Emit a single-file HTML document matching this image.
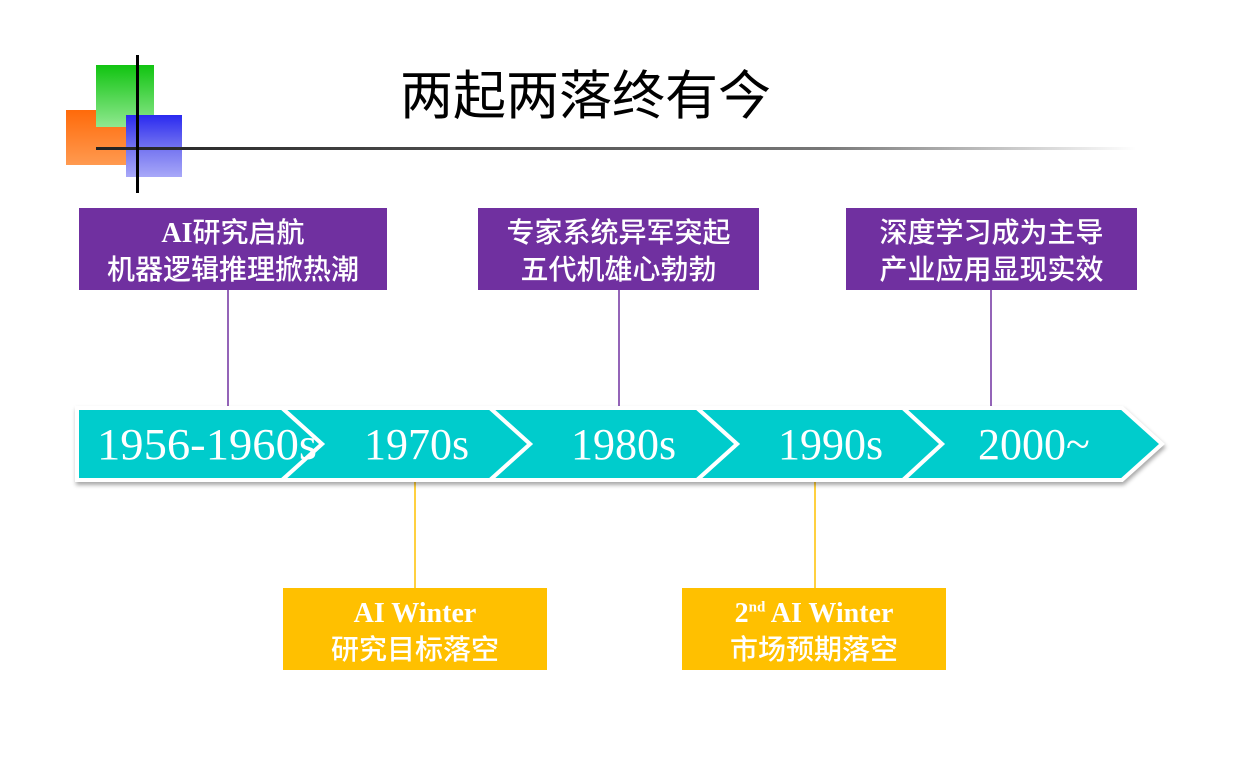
<!DOCTYPE html>
<html><head><meta charset="utf-8"><style>
body{margin:0;width:1245px;height:761px;background:#fff;overflow:hidden;position:relative;font-family:"Liberation Serif","Noto Sans CJK SC",serif}
.box{position:absolute;color:#fff;text-align:center;font-size:28px;line-height:37px;font-weight:bold;box-sizing:border-box;padding-top:7px}
.c{font-weight:500}
.p{background:#7030a0;top:208px;height:82px}
.y{background:#ffc000;top:588px;height:82px}
</style></head><body>
<svg width="1245" height="761" style="position:absolute;left:0;top:0">
<defs>
<linearGradient id="g" x1="0" y1="0" x2="0" y2="1"><stop offset="0" stop-color="#11c411"/><stop offset="1" stop-color="#90e890"/></linearGradient>
<linearGradient id="o" x1="0" y1="0" x2="0" y2="1"><stop offset="0" stop-color="#ff6a0a"/><stop offset="1" stop-color="#ff9a50"/></linearGradient>
<linearGradient id="b" x1="0" y1="0" x2="0" y2="1"><stop offset="0" stop-color="#2a2af0"/><stop offset="0.5" stop-color="#7070f0"/><stop offset="1" stop-color="#a8a8f8"/></linearGradient>
<linearGradient id="l" x1="0" y1="0" x2="1" y2="0"><stop offset="0" stop-color="#222"/><stop offset="0.7" stop-color="#777"/><stop offset="1" stop-color="#fff"/></linearGradient>
</defs>
<rect x="66" y="110" width="62" height="55" fill="url(#o)"/>
<rect x="96" y="65" width="58" height="62" fill="url(#g)"/>
<rect x="126" y="115" width="56" height="62" fill="url(#b)"/>
<rect x="96" y="147" width="1040" height="3" fill="url(#l)"/>
<rect x="136" y="55" width="3" height="138" fill="#000"/>
<line x1="228" y1="290" x2="228" y2="406" stroke="#7030a0" stroke-width="1.5"/>
<line x1="619" y1="290" x2="619" y2="406" stroke="#7030a0" stroke-width="1.5"/>
<line x1="991" y1="290" x2="991" y2="406" stroke="#7030a0" stroke-width="1.5"/>
<line x1="415" y1="482" x2="415" y2="588" stroke="#ffc000" stroke-width="1.5"/>
<line x1="815" y1="482" x2="815" y2="588" stroke="#ffc000" stroke-width="1.5"/>
<g stroke="#fff" stroke-width="4" stroke-linejoin="miter" fill="#00cccc" style="filter:drop-shadow(1px 3px 2px rgba(0,0,0,0.35))">
<polygon points="903,408 1122,408 1162,444 1122,480 903,480 942,444"/>
<polygon points="697,408 903,408 942,444 903,480 697,480 737,444"/>
<polygon points="490,408 697,408 737,444 697,480 490,480 530,444"/>
<polygon points="282,408 490,408 530,444 490,480 282,480 322,444"/>
<polygon points="77,408 282,408 322,444 282,480 77,480"/>
</g>
<g fill="#fff" font-family="Liberation Serif,serif" font-size="44">
<text x="97" y="459" textLength="220" lengthAdjust="spacingAndGlyphs">1956-1960s</text>
<text x="364" y="459">1970s</text>
<text x="571" y="459">1980s</text>
<text x="778" y="459">1990s</text>
<text x="978" y="459">2000~</text>
</g>
</svg>
<div style="position:absolute;left:400px;top:58px;font-size:53px;line-height:68px;font-family:'Noto Sans CJK SC',sans-serif;color:#000">两起两落终有今</div>
<div class="box p" style="left:79px;width:308px">AI<span class="c">研究启航</span><br><span class="c">机器逻辑推理掀热潮</span></div>
<div class="box p" style="left:478px;width:281px"><span class="c">专家系统异军突起<br>五代机雄心勃勃</span></div>
<div class="box p" style="left:846px;width:291px"><span class="c">深度学习成为主导<br>产业应用显现实效</span></div>
<div class="box y" style="left:283px;width:264px">AI Winter<br><span class="c">研究目标落空</span></div>
<div class="box y" style="left:682px;width:264px">2<sup style="font-size:15px;line-height:0">nd</sup> AI Winter<br><span class="c">市场预期落空</span></div>
</body></html>
